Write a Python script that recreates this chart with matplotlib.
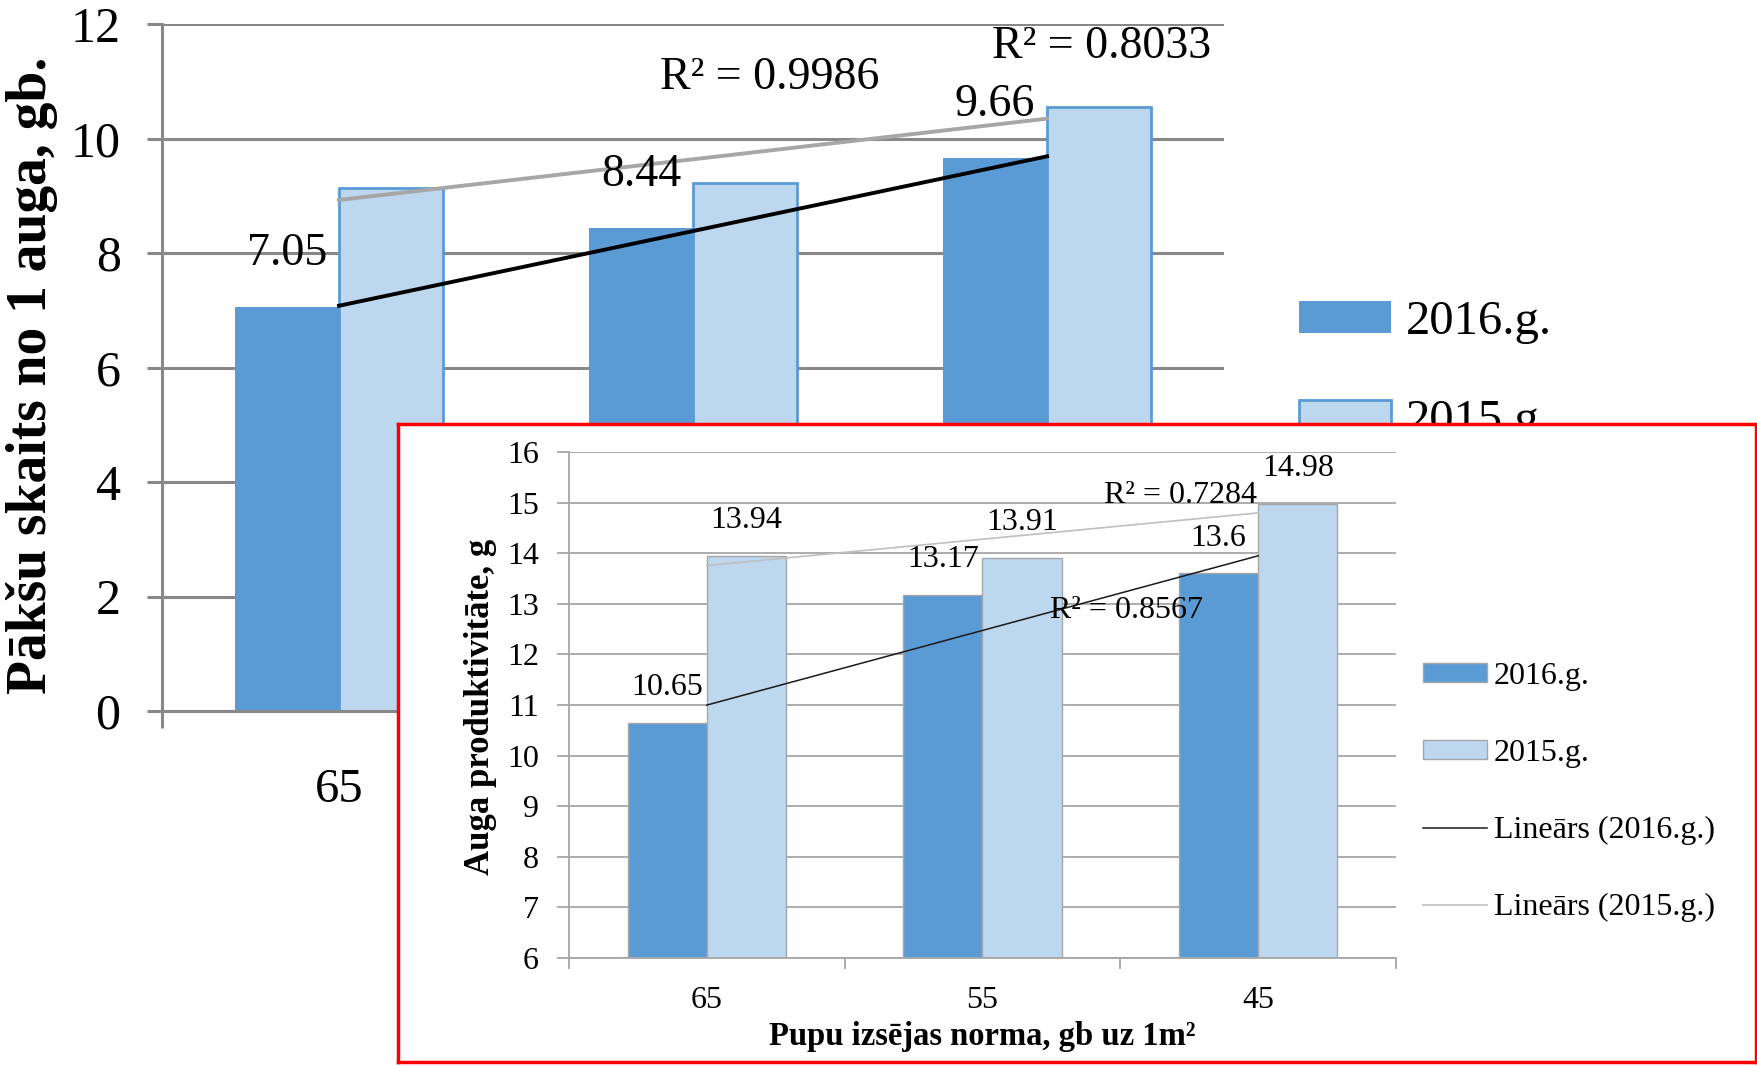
import numpy as np
import matplotlib
matplotlib.use('Agg')
import matplotlib.pyplot as plt

plt.rcParams['font.family'] = ['Liberation Serif', 'DejaVu Serif']

# galvenais grafiks - pakšu skaits
kat = ['65', '55', '45']
paksi_2016 = [7.05, 8.44, 9.66]
paksi_2015 = [9.13, 9.23, 10.55]
r2_paksi = ['R² = 0.9986', 'R² = 0.8033']

# ielikums - auga produktivitate
prod_2016 = [10.65, 13.17, 13.6]
prod_2015 = [13.94, 13.91, 14.98]
r2_prod = ['R² = 0.8567', 'R² = 0.7284']

tumss = '#5B9BD5'
gaiss = '#BDD7EE'
W, H = 1758, 1066

fig = plt.figure(figsize=(W / 100, H / 100), dpi=100)

# ---- fona grafiks ----
ax = fig.add_axes([162 / W, 1 - 711 / H, 1062 / W, 687 / H])
x = np.arange(len(kat))
w = 0.294
b16 = ax.bar(x - w / 2, paksi_2016, w, color=tumss, zorder=2, label='2016.g.')
b15 = ax.bar(x + w / 2, paksi_2015, w, color=gaiss, edgecolor=tumss, linewidth=2,
             zorder=2, label='2015.g.')

k, c = np.polyfit(x, paksi_2016, 1)
ax.plot([x[0], x[-1]], [k * x[0] + c, k * x[-1] + c], color='black', lw=2.8, zorder=3)
k, c = np.polyfit(x, paksi_2015, 1)
ax.plot([x[0], x[-1]], [k * x[0] + c, k * x[-1] + c], color='#A6A6A6', lw=2.8, zorder=3)

for i, v in enumerate(paksi_2016):
    ax.text(x[i] - w / 2, v + 0.93, f'{v:g}', ha='center', va='center', fontsize=33, zorder=4)
ax.text(1.218, 11.06, r2_paksi[0], ha='center', va='center', fontsize=33)
ax.text(2.155, 11.6, r2_paksi[1], ha='center', va='center', fontsize=33)

ax.set_xlim(-0.5, 2.5)
ax.set_ylim(0, 12)
ax.set_yticks(range(0, 13, 2))
ax.yaxis.grid(True, color='#888888', lw=2.2)
ax.set_axisbelow(True)
ax.set_xticks(x)
ax.set_xticklabels(kat)
ax.set_xticks([-0.5, 0.5, 1.5, 2.5], minor=True)
ax.tick_params(axis='x', which='major', length=0, pad=41, labelsize=35)
ax.tick_params(axis='x', which='minor', length=12, width=2.2, color='#888888')
ax.tick_params(axis='y', length=10.8, width=2.2, color='#888888', pad=19, labelsize=36)
for s in ['top', 'right']:
    ax.spines[s].set_visible(False)
for s in ['left', 'bottom']:
    ax.spines[s].set_color('#888888')
    ax.spines[s].set_linewidth(2.2)
ax.set_ylabel('Pākšu skaits no 1 auga, gb.', fontsize=40, fontweight='bold', va='center')
ax.yaxis.set_label_coords(-0.1224, 0.489)

ax.legend(handles=[b16, b15], loc='upper left', bbox_to_anchor=(1299 / W, 1 - 300 / H),
          bbox_transform=fig.transFigure, frameon=False, fontsize=35, handlelength=1.9,
          handleheight=0.64, handletextpad=0.3, labelspacing=1.14, borderpad=0,
          borderaxespad=0)

# ---- sarkanais ramis ----
fr = fig.add_axes([398 / W, 1 - 1062 / H, 1358 / W, 638 / H])
fr.set_xticks([])
fr.set_yticks([])
fr.set_facecolor('white')
for s in fr.spines.values():
    s.set_color('#FF0000')
    s.set_linewidth(2.5)

# ---- ielikums ----
ax2 = fig.add_axes([569 / W, 1 - 958 / H, 827 / W, 506 / H])
w2 = 0.287
p16 = ax2.bar(x - w2 / 2, prod_2016, w2, color=tumss, edgecolor='#A6A6A6', linewidth=1,
              zorder=2, label='2016.g.')
p15 = ax2.bar(x + w2 / 2, prod_2015, w2, color=gaiss, edgecolor='#A6A6A6', linewidth=1,
              zorder=2, label='2015.g.')
k, c = np.polyfit(x, prod_2016, 1)
l16, = ax2.plot([x[0], x[-1]], [k * x[0] + c, k * x[-1] + c], color='#1a1a1a', lw=1.1,
                zorder=3, label='Lineārs (2016.g.)')
k, c = np.polyfit(x, prod_2015, 1)
l15, = ax2.plot([x[0], x[-1]], [k * x[0] + c, k * x[-1] + c], color='#BFBFBF', lw=1.2,
                zorder=3, label='Lineārs (2015.g.)')

for i in range(len(kat)):
    ax2.text(x[i] - w2 / 2, prod_2016[i] + 0.7, f'{prod_2016[i]:g}', ha='center', va='center',
             fontsize=23, zorder=4)
    ax2.text(x[i] + w2 / 2, prod_2015[i] + 0.7, f'{prod_2015[i]:g}', ha='center', va='center',
             fontsize=23, zorder=4)
ax2.text(1.522, 12.86, r2_prod[0], ha='center', va='center', fontsize=23, zorder=4)
ax2.text(1.718, 15.15, r2_prod[1], ha='center', va='center', fontsize=23, zorder=4)

ax2.set_xlim(-0.5, 2.5)
ax2.set_ylim(6, 16)
ax2.set_yticks(range(6, 17))
ax2.yaxis.grid(True, color='#A6A6A6', lw=1.3)
ax2.set_axisbelow(True)
ax2.set_xticks(x)
ax2.set_xticklabels(kat)
ax2.set_xticks([-0.5, 0.5, 1.5, 2.5], minor=True)
ax2.tick_params(axis='x', which='major', length=0, pad=20, labelsize=23)
ax2.tick_params(axis='x', which='minor', length=8, width=1.3, color='#A6A6A6')
ax2.tick_params(axis='y', length=8.6, width=1.3, color='#A6A6A6', pad=13, labelsize=23)
for s in ['top', 'right']:
    ax2.spines[s].set_visible(False)
for s in ['left', 'bottom']:
    ax2.spines[s].set_color('#A6A6A6')
    ax2.spines[s].set_linewidth(1.3)
ax2.set_ylabel('Auga produktivitāte, g', fontsize=25, fontweight='bold', va='center')
ax2.yaxis.set_label_coords(-0.107, 0.496)
ax2.set_xlabel('Pupu izsējas norma, gb uz 1m²', fontsize=23.5, fontweight='bold', va='center')
ax2.xaxis.set_label_coords(0.5, -0.156)

ax2.legend(handles=[p16, p15, l16, l15], loc='upper left',
           bbox_to_anchor=(1423 / W, 1 - 662 / H), bbox_transform=fig.transFigure,
           frameon=False, fontsize=23, handlelength=2.0, handleheight=0.53,
           handletextpad=0.22, labelspacing=1.5, borderpad=0, borderaxespad=0)

fig.savefig('out.png', dpi=100)
